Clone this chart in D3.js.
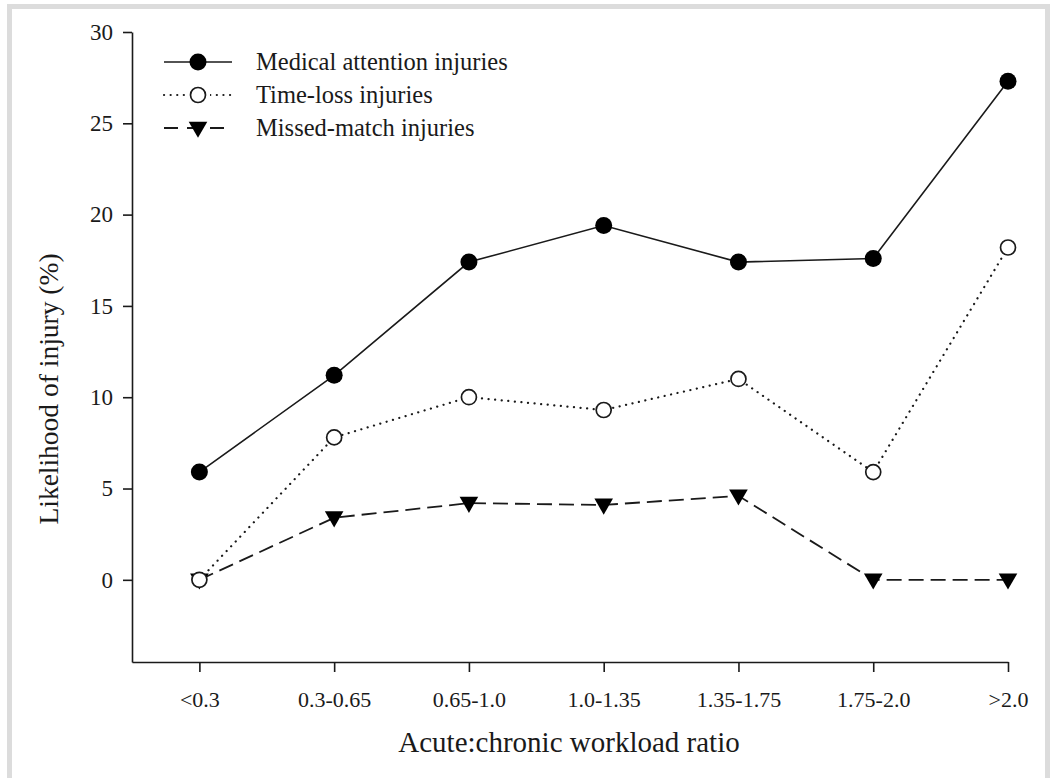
<!DOCTYPE html>
<html>
<head>
<meta charset="utf-8">
<script src="https://cdn.jsdelivr.net/npm/d3@7"></script>
<style>
  body { margin: 0; background: #fff; }
  svg text { font-family: "Liberation Serif", "Times New Roman", serif; fill: #1a1a1a; }
  .axis path, .axis line { stroke: #1a1a1a; stroke-width: 1.6; }
</style>
</head>
<body>
<div id="chart"></div>
<script>
var categories = ["<0.3", "0.3-0.65", "0.65-1.0", "1.0-1.35", "1.35-1.75", "1.75-2.0", ">2.0"];
var medical = [5.9, 11.2, 17.4, 19.4, 17.4, 17.6, 27.3];
var timeLoss = [0, 7.8, 10.0, 9.3, 11.0, 5.9, 18.2];
var missedMatch = [0, 3.4, 4.2, 4.1, 4.6, 0, 0];
var yTicks = [0, 5, 10, 15, 20, 25, 30];
var seriesNames = ["Medical attention injuries", "Time-loss injuries", "Missed-match injuries"];

function init() {
    var w = 1053, h = 778;
    var left = 132, right = 1008, top = 32, bottom = 662;

    var svg = d3.select("#chart").append("svg")
        .attr("width", w)
        .attr("height", h);

    // grey frame round the figure
    svg.append("rect")
        .attr("x", 9.5).attr("y", 6.5)
        .attr("width", 1038).attr("height", 800)
        .attr("fill", "none")
        .attr("stroke", "#dcdcdc")
        .attr("stroke-width", 5);

    var xScale = d3.scaleLinear().domain([-0.5, categories.length - 1]).range([left, right]);
    var yScale = d3.scaleLinear().domain([-4.5, 30]).range([bottom, top]);

    var xAxis = d3.axisBottom(xScale)
        .tickValues(d3.range(categories.length))
        .tickFormat(function(i) { return categories[i]; })
        .tickSize(10).tickSizeOuter(0).tickPadding(12);
    var yAxis = d3.axisLeft(yScale)
        .tickValues(yTicks)
        .tickSize(9).tickSizeOuter(0).tickPadding(10);

    var gx = svg.append("g").attr("class", "axis")
        .attr("transform", "translate(0," + bottom + ")")
        .call(xAxis);
    gx.selectAll("text")
        .attr("font-size", 22)
        .attr("dy", "1.05em");

    var gy = svg.append("g").attr("class", "axis")
        .attr("transform", "translate(" + left + ",0)")
        .call(yAxis);
    gy.selectAll("text").attr("font-size", 23);

    // axis titles
    svg.append("text")
        .attr("x", 569).attr("y", 752)
        .attr("text-anchor", "middle")
        .attr("font-size", 29)
        .text("Acute:chronic workload ratio");
    svg.append("text")
        .attr("transform", "translate(58,389) rotate(-90)")
        .attr("text-anchor", "middle")
        .attr("font-size", 27.5)
        .text("Likelihood of injury (%)");

    var line = d3.line()
        .x(function(d, i) { return xScale(i); })
        .y(function(d) { return yScale(d); });

    var styles = [
        { data: medical, dash: null, width: 1.6, cap: "butt" },
        { data: timeLoss, dash: "0.1 6.5", width: 2.2, cap: "round" },
        { data: missedMatch, dash: "15 7", width: 1.8, cap: "butt" }
    ];

    styles.forEach(function(s) {
        svg.append("path")
            .datum(s.data)
            .attr("d", line)
            .attr("fill", "none")
            .attr("stroke", "#1a1a1a")
            .attr("stroke-width", s.width)
            .attr("stroke-linecap", s.cap)
            .attr("stroke-dasharray", s.dash);
    });

    var tri = d3.symbol().type(d3.symbolTriangle).size(150);

    function drawMarker(g, k, x, y) {
        if (k === 0) {
            g.append("circle").attr("cx", x).attr("cy", y).attr("r", 8.5).attr("fill", "#000");
        } else if (k === 1) {
            g.append("circle").attr("cx", x).attr("cy", y).attr("r", 7.5)
                .attr("fill", "#fff").attr("stroke", "#1a1a1a").attr("stroke-width", 1.7);
        } else {
            g.append("path").attr("d", tri)
                .attr("transform", "translate(" + x + "," + (y - 1) + ") rotate(180)")
                .attr("fill", "#000");
        }
    }

    var marks = svg.append("g");
    // missed-match first so the open circle at <0.3 sits on top like the original
    [2, 0, 1].forEach(function(k) {
        styles[k].data.forEach(function(v, i) {
            drawMarker(marks, k, xScale(i), yScale(v));
        });
    });

    // legend
    var legend = svg.append("g");
    var rowY = [62, 95, 128];
    seriesNames.forEach(function(name, k) {
        var s = styles[k];
        legend.append("line")
            .attr("x1", 164).attr("x2", 232)
            .attr("y1", rowY[k]).attr("y2", rowY[k])
            .attr("stroke", "#1a1a1a")
            .attr("stroke-width", s.width)
            .attr("stroke-linecap", s.cap)
            .attr("stroke-dasharray", k === 2 ? "14 9" : s.dash);
        if (k === 1) {
            legend.append("rect").attr("x", 188).attr("y", rowY[k] - 10).attr("width", 22).attr("height", 20).attr("fill", "#fff");
        }
        drawMarker(legend, k, 198, rowY[k]);
        legend.append("text")
            .attr("x", 256).attr("y", rowY[k] + 8)
            .attr("font-size", 24.5)
            .text(name);
    });
}
window.onload = init;
</script>
</body>
</html>
